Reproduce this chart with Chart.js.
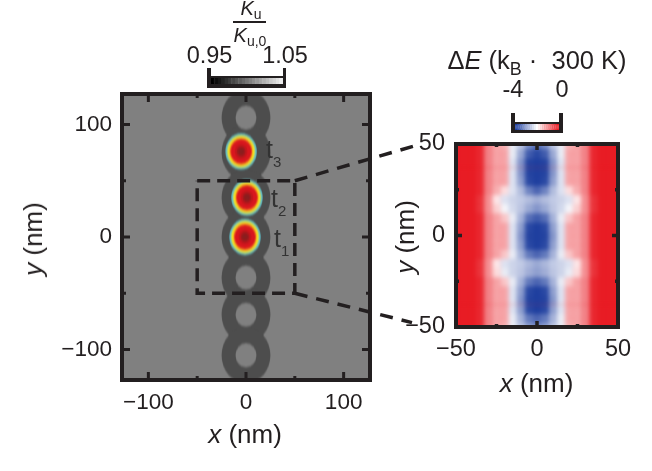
<!DOCTYPE html>
<html>
<head>
<meta charset="utf-8">
<script src="https://cdn.jsdelivr.net/npm/chart.js@4/dist/chart.umd.min.js"></script>
<style>
  html, body { margin: 0; background: #fff; }
  #page { position: relative; width: 652px; height: 471px; overflow: hidden; font-family: "Liberation Sans", sans-serif; color: #231f20; }
  canvas { position: absolute; }
  .clip { position: absolute; overflow: hidden; }
  .txt { position: absolute; white-space: nowrap; transform: translate(-50%, -50%); font-size: 23.5px; line-height: 1; }
  .title { font-size: 26px; }
  .rot { transform: translate(-50%, -50%) rotate(-90deg); }
  .tt { transform: none; font-size: 25px; color: #333; }
  .tt sub { font-size: 15px; vertical-align: -9px; }
  sub { font-size: 70%; line-height: 0; vertical-align: -0.3em; }
  i { font-style: italic; }
</style>
</head>
<body>
<div id="page">
  <div class="clip" id="leftClip" style="background:#808080"><canvas id="leftHeat"></canvas></div>
  <div class="clip" id="rightClip" style="background:#e81c24"><canvas id="rightHeat"></canvas></div>
  <canvas id="leftAxes" width="652" height="471"></canvas>
  <canvas id="rightAxes" width="652" height="471"></canvas>
  <canvas id="grayBar"></canvas>
  <canvas id="redBlueBar"></canvas>

  <div class="txt" style="left:251px;top:8px;font-size:20px"><i>K</i><sub>u</sub></div>
  <div style="position:absolute;left:233px;top:21px;width:33px;height:1.5px;background:#231f20"></div>
  <div class="txt" style="left:250px;top:35px;font-size:20px"><i>K</i><sub>u,0</sub></div>
  <div class="txt" style="left:209.5px;top:56px">0.95</div>
  <div class="txt" style="left:285px;top:56px">1.05</div>
  <div class="txt" style="left:537px;top:61px;font-size:25.5px">&Delta;<i>E</i> (k<sub>B</sub> &middot;&nbsp; 300 K)</div>
  <div class="txt" style="left:513px;top:90px">-4</div>
  <div class="txt" style="left:562px;top:90px">0</div>

  <div class="txt title" style="left:245px;top:434px"><i>x</i> (nm)</div>
  <div class="txt title rot" style="left:33px;top:239px"><i>y</i> (nm)</div>
  <div class="txt title" style="left:536.5px;top:383px"><i>x</i> (nm)</div>
  <div class="txt title rot" style="left:405px;top:236.5px"><i>y</i> (nm)</div>

  <div class="txt tt" style="left:266px;top:137px">t<sub>3</sub></div>
  <div class="txt tt" style="left:271px;top:186px">t<sub>2</sub></div>
  <div class="txt tt" style="left:274px;top:226px">t<sub>1</sub></div>
</div>

<script>
// left panel
const xTicksLeft = [-100, -50, 0, 50, 100];
const yTicksLeft = [-100, -50, 0, 50, 100];
const labelledLeft = [-100, 0, 100];
const ringX = [0, 0, 0, 0, 0, 0, 0];
const ringY = [106, 75, 35, 0, -36, -69, -105];
const skyrmionX = [-1, 1, -5];
const skyrmionY = [0, 35, 76];
const boxX = [-50, 50, 50, -50, -50];
const boxY = [50, 50, -50, -50, 50];
const connectorTopX = [50, 173];
const connectorTopY = [50, 81];
const connectorBottomX = [50, 170];
const connectorBottomY = [-50, -76];

// right panel
const xTicksRight = [-50, -25, 0, 25, 50];
const yTicksRight = [-50, -25, 0, 25, 50];
const labelledRight = [-50, 0, 50];

// energy map, one row per y, one column per x
const heatX = [-50, -45, -40, -35, -30, -25, -20, -15, -10, -5, 0, 5, 10, 15, 20, 25, 30, 35, 40, 45, 50];
const heatY = [55, 50, 45, 40, 35, 30, 25, 20, 15, 10, 5, 0, -5, -10, -15, -20, -25, -30, -35, -40, -45, -50, -55];
const heatE = [
  [0, 0, 0, -.1, -.9, -1.2, -1.4, -2.2, -2.6, -3.1, -3.4, -3.1, -2.6, -2.2, -1.4, -1.2, -.9, -.1, 0, 0, 0],
  [0, 0, 0, -.1, -.9, -1.2, -1.3, -2.2, -2.6, -3.2, -3.5, -3.2, -2.6, -2.2, -1.3, -1.2, -.9, -.1, 0, 0, 0],
  [0, 0, 0, -.1, -.9, -1.2, -1.2, -2.2, -2.9, -3.7, -3.9, -3.7, -2.9, -2.2, -1.2, -1.2, -.9, -.1, 0, 0, 0],
  [0, 0, 0, -.1, -.9, -1.2, -1.2, -2.3, -3.1, -3.95, -4, -3.95, -3.1, -2.3, -1.2, -1.2, -.9, -.1, 0, 0, 0],
  [0, 0, 0, -.1, -.9, -1.2, -1.2, -2.3, -3.1, -3.95, -4, -3.95, -3.1, -2.3, -1.2, -1.2, -.9, -.1, 0, 0, 0],
  [0, 0, 0, -.1, -.9, -1.2, -1.2, -2.3, -3, -3.9, -4, -3.9, -3, -2.3, -1.2, -1.2, -.9, -.1, 0, 0, 0],
  [0, 0, 0, -.1, -.9, -1.3, -1.7, -2.3, -2.7, -3.3, -3.6, -3.3, -2.7, -2.3, -1.7, -1.3, -.9, -.1, 0, 0, 0],
  [0, 0, 0, -.2, -1, -1.8, -2.3, -2.45, -2.55, -2.7, -2.85, -2.7, -2.55, -2.45, -2.3, -1.8, -1, -.2, 0, 0, 0],
  [0, 0, 0, -.2, -1, -1.6, -2.1, -2.4, -2.6, -2.9, -3.1, -2.9, -2.6, -2.4, -2.1, -1.6, -1, -.2, 0, 0, 0],
  [0, 0, 0, -.1, -.9, -1.2, -1.5, -2.2, -2.8, -3.5, -3.7, -3.5, -2.8, -2.2, -1.5, -1.2, -.9, -.1, 0, 0, 0],
  [0, 0, 0, -.1, -.9, -1.2, -1.2, -2.3, -3, -3.9, -4, -3.9, -3, -2.3, -1.2, -1.2, -.9, -.1, 0, 0, 0],
  [0, 0, 0, -.1, -.9, -1.2, -1.2, -2.3, -3.1, -3.95, -4, -3.95, -3.1, -2.3, -1.2, -1.2, -.9, -.1, 0, 0, 0],
  [0, 0, 0, -.1, -.9, -1.2, -1.2, -2.3, -3, -3.9, -4, -3.9, -3, -2.3, -1.2, -1.2, -.9, -.1, 0, 0, 0],
  [0, 0, 0, -.1, -.9, -1.2, -1.5, -2.2, -2.8, -3.4, -3.6, -3.4, -2.8, -2.2, -1.5, -1.2, -.9, -.1, 0, 0, 0],
  [0, 0, 0, -.2, -1, -1.8, -2.3, -2.45, -2.55, -2.75, -2.9, -2.75, -2.55, -2.45, -2.3, -1.8, -1, -.2, 0, 0, 0],
  [0, 0, 0, -.2, -1, -1.7, -2.2, -2.45, -2.6, -2.85, -3, -2.85, -2.6, -2.45, -2.2, -1.7, -1, -.2, 0, 0, 0],
  [0, 0, 0, -.1, -.9, -1.2, -1.5, -2.2, -2.8, -3.4, -3.6, -3.4, -2.8, -2.2, -1.5, -1.2, -.9, -.1, 0, 0, 0],
  [0, 0, 0, -.1, -.9, -1.2, -1.2, -2.3, -3, -3.9, -4, -3.9, -3, -2.3, -1.2, -1.2, -.9, -.1, 0, 0, 0],
  [0, 0, 0, -.1, -.9, -1.2, -1.2, -2.3, -3.1, -3.95, -4, -3.95, -3.1, -2.3, -1.2, -1.2, -.9, -.1, 0, 0, 0],
  [0, 0, 0, -.1, -.9, -1.2, -1.2, -2.3, -3, -3.9, -4, -3.9, -3, -2.3, -1.2, -1.2, -.9, -.1, 0, 0, 0],
  [0, 0, 0, -.1, -.9, -1.2, -1.2, -2.2, -2.8, -3.4, -3.6, -3.4, -2.8, -2.2, -1.2, -1.2, -.9, -.1, 0, 0, 0],
  [0, 0, 0, -.1, -.9, -1.2, -1.3, -2.2, -2.6, -3, -3.2, -3, -2.6, -2.2, -1.3, -1.2, -.9, -.1, 0, 0, 0],
  [0, 0, 0, -.1, -.9, -1.2, -1.4, -2.2, -2.5, -2.8, -2.9, -2.8, -2.5, -2.2, -1.4, -1.2, -.9, -.1, 0, 0, 0]
];

// colour bars
const grayLevels = [.95, .955, .96, .965, .97, .975, .98, .985, .99, .995, 1, 1.005, 1.01, 1.015, 1.02, 1.025, 1.03, 1.035, 1.04, 1.045, 1.05];
const energyLevels = [-4, -3.8, -3.6, -3.4, -3.2, -3, -2.8, -2.6, -2.4, -2.2, -2, -1.8, -1.6, -1.4, -1.2, -1, -.8, -.6, -.4, -.2, 0];

const INK = '#231f20';
const LEFT = { x0: 122, x1: 370, y0: 94, y1: 380, range: 127 };
const RIGHT = { x0: 456, x1: 618, y0: 144, y1: 327, range: 50 };
const STEP = 5;

Chart.defaults.animation = false;
Chart.defaults.events = [];
Chart.defaults.responsive = false;
Chart.defaults.layout.autoPadding = false;
Chart.defaults.plugins.legend.display = false;
Chart.defaults.plugins.tooltip.enabled = false;
Chart.defaults.font.family = '"Liberation Sans", sans-serif';
Chart.defaults.color = INK;

function mix(a, b, t) {
  return 'rgb(' + a.map((c, i) => Math.round(c + (b[i] - c) * t)).join(',') + ')';
}
function energyColor(e) {
  const blue = [31, 63, 159], white = [255, 255, 255], red = [232, 28, 36];
  return e < -2 ? mix(blue, white, (e + 4) / 2) : mix(white, red, (e + 2) / 2);
}
function grayColor(v) {
  return mix([0, 0, 0], [236, 236, 236], (v - .95) / .1);
}
function place(el, x, y, w, h) {
  el.style.left = x + 'px';
  el.style.top = y + 'px';
  el.style.width = w + 'px';
  el.style.height = h + 'px';
}

const frameTicks = {
  id: 'frameTicks',
  afterDraw(chart, args, opts) {
    const { ctx, chartArea: a, scales } = chart;
    ctx.save();
    ctx.strokeStyle = INK;
    ctx.lineWidth = opts.tickWidth;
    opts.xTicks.forEach(v => {
      const px = scales.x.getPixelForValue(v);
      const len = opts.labelled.includes(v) ? opts.major : opts.minor;
      ctx.beginPath();
      ctx.moveTo(px, a.top); ctx.lineTo(px, a.top + len);
      ctx.moveTo(px, a.bottom); ctx.lineTo(px, a.bottom - len);
      ctx.stroke();
    });
    opts.yTicks.forEach(v => {
      const py = scales.y.getPixelForValue(v);
      const len = opts.labelled.includes(v) ? opts.major : opts.minor;
      ctx.beginPath();
      ctx.moveTo(a.left, py); ctx.lineTo(a.left + len, py);
      ctx.moveTo(a.right, py); ctx.lineTo(a.right - len, py);
      ctx.stroke();
    });
    ctx.lineWidth = 4;
    ctx.strokeRect(a.left, a.top, a.right - a.left, a.bottom - a.top);
    ctx.restore();
  }
};

function axesOptions(box, xTicks, yTicks, labelled, pad, fontSize, major, minor, tickWidth) {
  const tickLabel = v => labelled.includes(v) ? (v < 0 ? '\u2212' + (-v) : '' + v) : '';
  const base = (ticks, padding) => ({
    min: -box.range, max: box.range,
    grid: { display: false },
    border: { display: false },
    afterBuildTicks: s => { s.ticks = ticks.map(v => ({ value: v })); },
    ticks: { padding, autoSkip: false, maxRotation: 0, callback: tickLabel, font: { size: fontSize } }
  });
  return {
    layout: { padding: { left: 0, top: box.y0, right: 652 - box.x1, bottom: 0 } },
    scales: {
      x: Object.assign(base(xTicks, pad.x), { afterFit: s => { s.height = 471 - box.y1; } }),
      y: Object.assign(base(yTicks, pad.y), { afterFit: s => { s.width = box.x0; } })
    },
    plugins: { frameTicks: { xTicks, yTicks, labelled, major, minor, tickWidth } }
  };
}

// left panel map: rings and skyrmions as points on hidden scales
// canvas is square so the circles stay round in nm, then stretched to the y scale
const leftSize = LEFT.x1 - LEFT.x0;
const nmPx = leftSize / (2 * LEFT.range);
const ringPts = ringX.map((x, i) => ({ x, y: ringY[i] }));
const skyPts = skyrmionX.map((x, i) => ({ x, y: skyrmionY[i] }));
const layer = (data, nm, color) => ({ data, pointRadius: nm * nmPx, pointBackgroundColor: color, pointBorderWidth: 0, clip: 0 });
const leftLayers = [
  layer(ringPts, 25, '#4d4d4d'),
  layer(ringPts.filter(p => p.y !== 75 && p.y !== 35 && p.y !== 0), 10.7, '#808080'),
  layer(skyPts, 16.1, '#5fb8c2'),
  layer(skyPts, 15, '#8cc9a0'),
  layer(skyPts, 14.1, '#d6dc50'),
  layer(skyPts, 13.2, '#f2dc1e'),
  layer(skyPts, 12.2, '#f4a820'),
  layer(skyPts, 11.2, '#e8481e'),
  layer(skyPts, 10.2, '#d8161e'),
  layer(skyPts, 6.5, '#c2161c'),
  layer(skyPts, 4.5, '#a01a1c'),
  layer(skyPts, 2.8, '#8a1e1e')
].map((d, i, all) => Object.assign(d, { order: all.length - i }));

const leftClip = document.getElementById('leftClip');
place(leftClip, LEFT.x0, LEFT.y0, leftSize, LEFT.y1 - LEFT.y0);
const leftHeat = document.getElementById('leftHeat');
leftHeat.width = leftSize;
leftHeat.height = leftSize;
leftHeat.style.transformOrigin = '0 0';
leftHeat.style.transform = 'scaleY(' + ((LEFT.y1 - LEFT.y0) / leftSize) + ')';
leftHeat.style.filter = 'blur(0.7px)';
new Chart(leftHeat, {
  type: 'scatter',
  data: { datasets: leftLayers },
  options: {
    scales: {
      x: { display: false, min: -LEFT.range, max: LEFT.range },
      y: { display: false, min: -LEFT.range, max: LEFT.range }
    }
  }
});

// right panel map: floating bars, one dataset per row
const rightPerNmX = (RIGHT.x1 - RIGHT.x0) / 100;
const rightPerNmY = (RIGHT.y1 - RIGHT.y0) / 100;
const heatW = heatX.length * STEP * rightPerNmX;
const heatH = heatY.length * STEP * rightPerNmY;
const rightClip = document.getElementById('rightClip');
place(rightClip, RIGHT.x0, RIGHT.y0, RIGHT.x1 - RIGHT.x0, RIGHT.y1 - RIGHT.y0);
const rightHeat = document.getElementById('rightHeat');
rightHeat.width = Math.round(heatW);
rightHeat.height = Math.round(heatH);
rightHeat.style.left = (RIGHT.x1 - RIGHT.x0 - rightHeat.width) / 2 + 'px';
rightHeat.style.top = (RIGHT.y1 - RIGHT.y0 - rightHeat.height) / 2 + 'px';
rightHeat.style.filter = 'blur(2px)';
new Chart(rightHeat, {
  type: 'bar',
  data: {
    labels: heatX,
    datasets: heatY.map((y, r) => {
      const colors = heatE[r].map(energyColor);
      return {
        data: heatX.map(() => [y - STEP / 2, y + STEP / 2]),
        backgroundColor: colors, borderColor: colors, borderWidth: 1, borderSkipped: false,
        grouped: false, barPercentage: 1, categoryPercentage: 1
      };
    })
  },
  options: {
    scales: {
      x: { display: false },
      y: { display: false, min: -(heatY.length * STEP) / 2, max: heatY.length * STEP / 2 }
    }
  }
});

// axes on top of the maps
new Chart(document.getElementById('leftAxes'), {
  type: 'scatter',
  data: {
    datasets: [
      { data: boxX.map((x, i) => ({ x, y: boxY[i] })), showLine: true, pointRadius: 0, borderColor: INK, borderWidth: 3.5, borderDash: [13, 7] },
      { data: connectorTopX.map((x, i) => ({ x, y: connectorTopY[i] })), showLine: true, pointRadius: 0, borderColor: INK, borderWidth: 3.5, borderDash: [13, 9], clip: false },
      { data: connectorBottomX.map((x, i) => ({ x, y: connectorBottomY[i] })), showLine: true, pointRadius: 0, borderColor: INK, borderWidth: 3.5, borderDash: [13, 9], clip: false }
    ]
  },
  options: axesOptions(LEFT, xTicksLeft, yTicksLeft, labelledLeft, { x: 1, y: 2 }, 22.5, 8, 4, 3),
  plugins: [frameTicks]
});
new Chart(document.getElementById('rightAxes'), {
  type: 'scatter',
  data: { datasets: [] },
  options: axesOptions(RIGHT, xTicksRight, yTicksRight, labelledRight, { x: 0, y: 3 }, 23.5, 6, 3, 3.5),
  plugins: [frameTicks]
});

// colour bars: one bar per level, with a bracket round them
const bracket = {
  id: 'bracket',
  afterDraw(chart) {
    const { ctx, chartArea: a, width, height } = chart;
    ctx.save();
    ctx.fillStyle = INK;
    ctx.fillRect(0, a.top - 2, width, 2);
    ctx.fillRect(0, a.bottom, width, height - a.bottom);
    ctx.fillRect(0, 0, a.left, height);
    ctx.fillRect(a.right, 0, width - a.right, height);
    ctx.restore();
  }
};
function colourBar(id, levels, colorOf, x, y, w, h, inner) {
  const el = document.getElementById(id);
  el.width = w;
  el.height = h;
  place(el, x, y, w, h);
  const colors = levels.map(colorOf);
  new Chart(el, {
    type: 'bar',
    data: {
      labels: levels,
      datasets: [{ data: levels.map(() => 1), backgroundColor: colors, borderColor: colors, borderWidth: 1, borderSkipped: false, barPercentage: 1, categoryPercentage: 1 }]
    },
    options: {
      layout: { padding: inner },
      scales: { x: { display: false }, y: { display: false, min: 0, max: 1 } }
    },
    plugins: [bracket]
  });
}
colourBar('grayBar', grayLevels, grayColor, 207, 68, 79, 20, { left: 4, right: 3, top: 10, bottom: 4 });
colourBar('redBlueBar', energyLevels, energyColor, 511, 113, 52, 20, { left: 4, right: 4, top: 11, bottom: 3 });
</script>
</body>
</html>
